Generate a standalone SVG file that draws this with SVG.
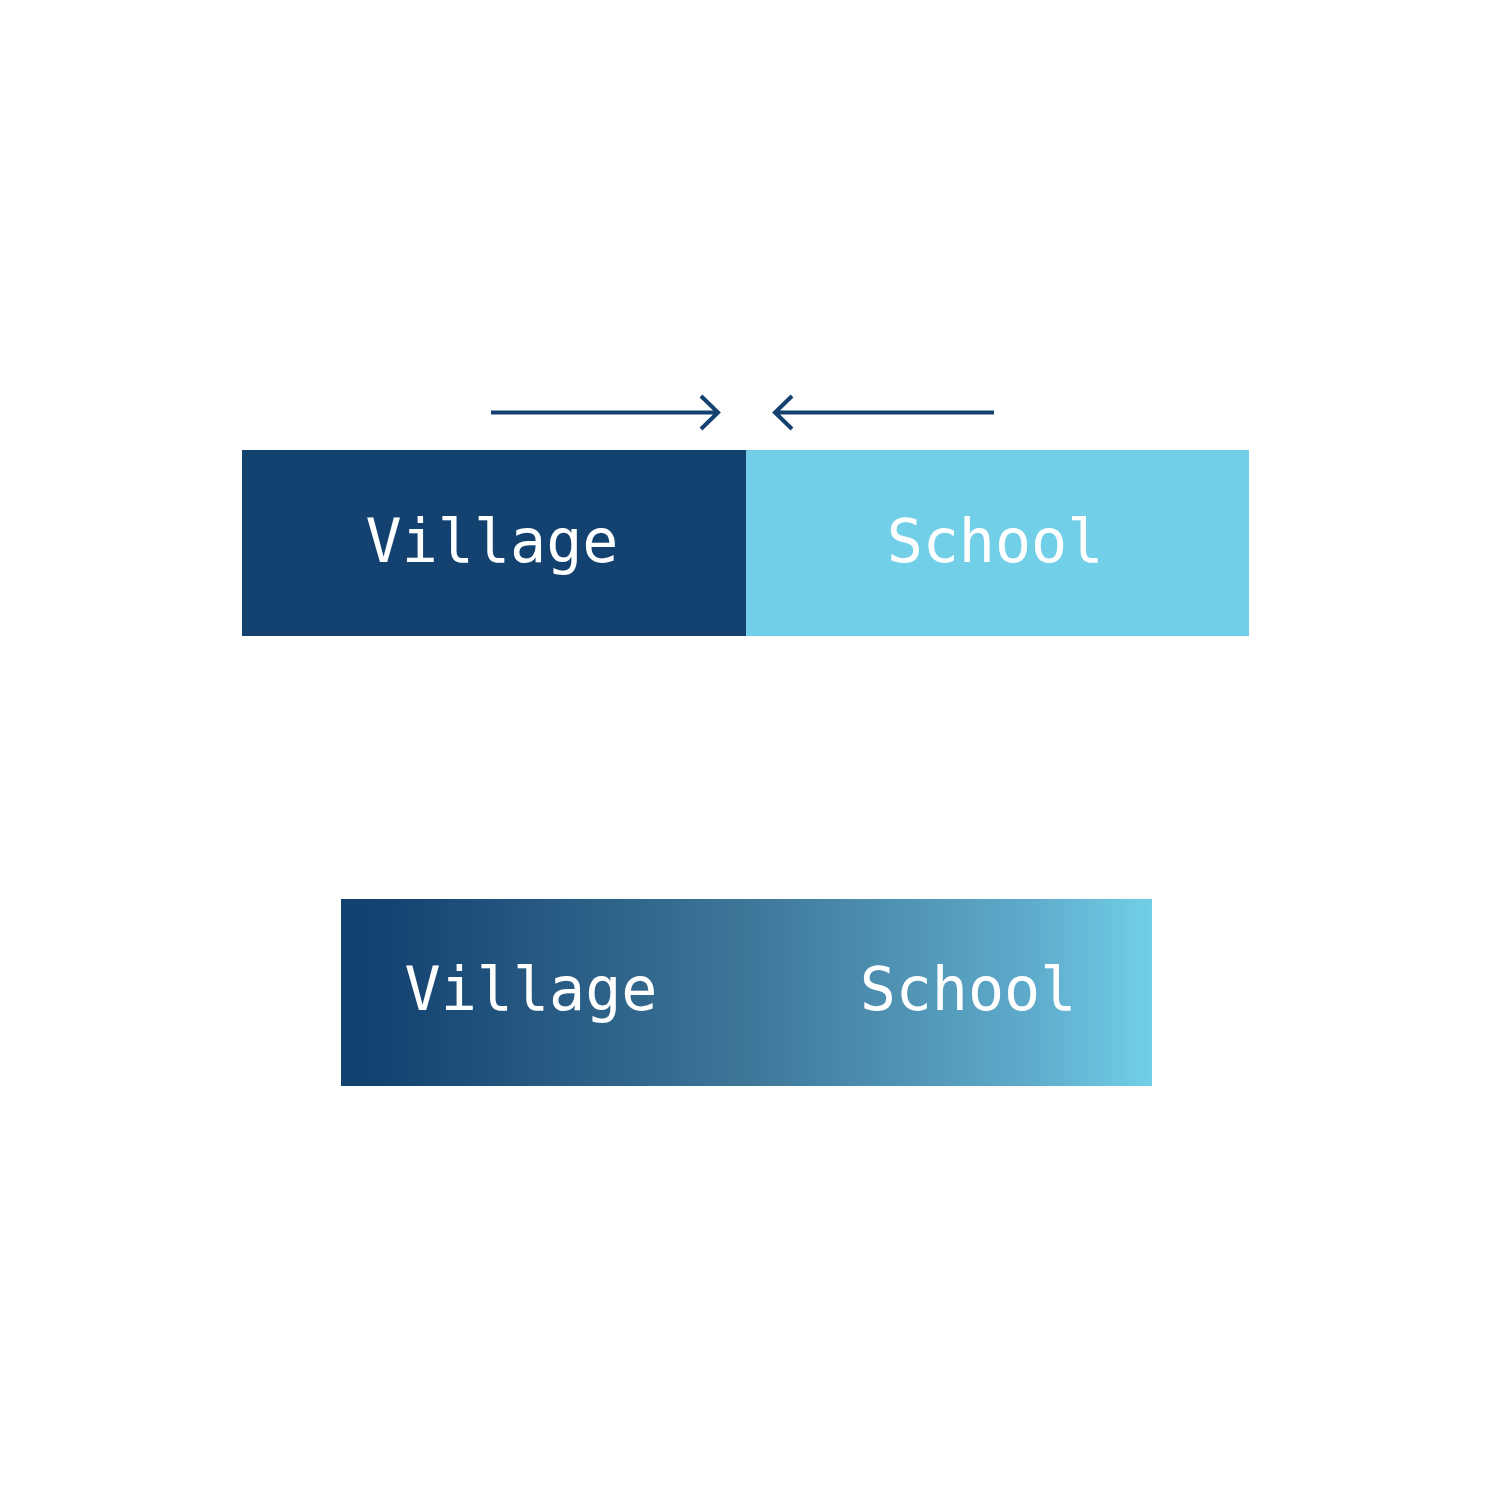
<svg xmlns="http://www.w3.org/2000/svg" width="1500" height="1500" viewBox="0 0 1500 1500">
<style>
.lbl{font-family:"DejaVu Sans Mono","Liberation Mono",monospace;font-size:60px;fill:#ffffff;text-anchor:middle}
.conn{stroke:#134170;stroke-width:4;fill:none}
</style>
<defs>
<linearGradient id="g" x1="0" y1="0" x2="1" y2="0">
<stop offset="0" stop-color="#134170"/>
<stop offset="0.04" stop-color="#134170"/>
<stop offset="0.5" stop-color="#3E7698"/>
<stop offset="0.85" stop-color="#5EABCB"/>
<stop offset="1" stop-color="#72CFE8"/>
</linearGradient>
</defs>
<rect width="1500" height="1500" fill="#ffffff"/>
<g id="connectors">
<path class="conn" d="M491 412.5H718M701 396L718 412.5L701 429"/>
<path class="conn" d="M994 412.5H775M792 396L775 412.5L792 429"/>
</g>
<g id="village-top">
<rect x="242" y="450" width="504" height="186" fill="#134170"/>
<text class="lbl" x="492" y="562">Village</text>
</g>
<g id="school-top">
<rect x="746" y="450" width="503" height="186" fill="#72CFE8"/>
<text class="lbl" x="995" y="562">School</text>
</g>
<g id="combined">
<rect x="341" y="899" width="811" height="187" fill="url(#g)"/>
<text class="lbl" x="531" y="1010">Village</text>
<text class="lbl" x="968" y="1010">School</text>
</g>
</svg>
